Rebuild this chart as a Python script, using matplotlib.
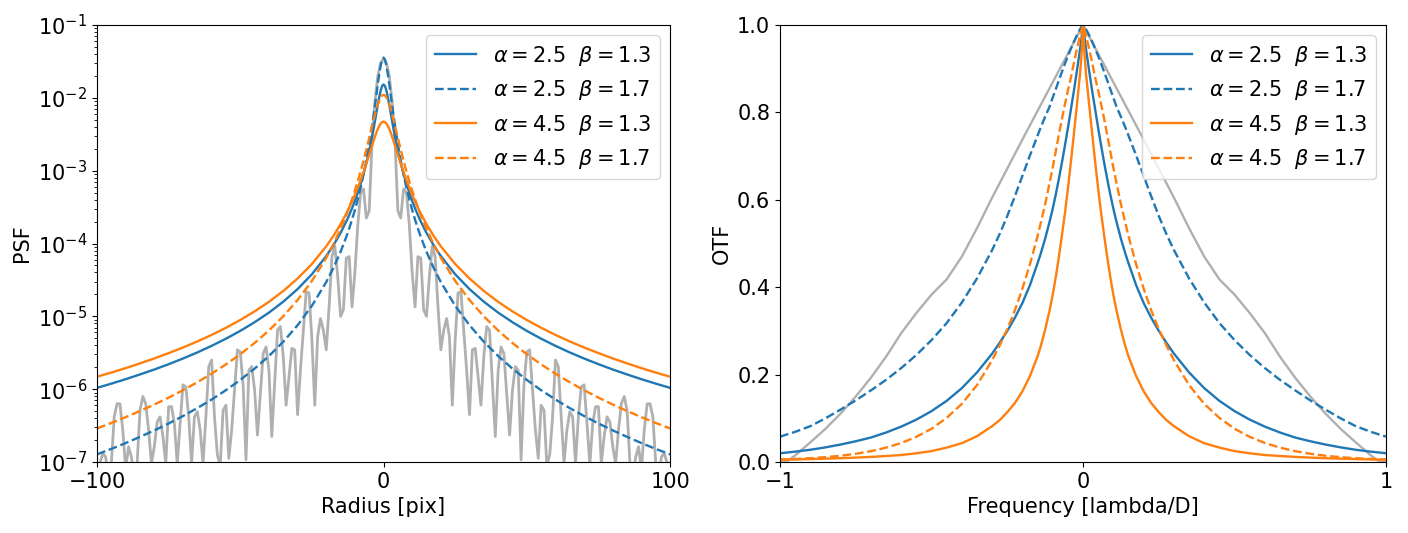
import numpy as np
import matplotlib
matplotlib.use("Agg")
import matplotlib.pyplot as plt

# ---- PSF (left panel), log10(PSF) read at radius r >= 0; the profiles are symmetric ----
psf_radius = [0, 0.5, 1, 1.5, 2, 2.5, 3, 3.5, 4, 5, 6, 7, 8, 9, 10, 11, 12, 13, 15, 17.5, 20, 25,
              30, 35, 40, 45, 50, 55, 60, 65, 70, 75, 80, 85, 90, 95, 100]
psf_a25_b13 = [-1.816, -1.838, -1.900, -1.990, -2.095, -2.207, -2.320, -2.429, -2.533,
               -2.725, -2.895, -3.046, -3.182, -3.304, -3.415, -3.517, -3.611, -3.698,
               -3.855, -4.025, -4.173, -4.422, -4.626, -4.799, -4.949, -5.081, -5.200,
               -5.307, -5.405, -5.496, -5.579, -5.657, -5.730, -5.798, -5.863, -5.924, -5.982]
psf_a25_b17 = [-1.448, -1.477, -1.558, -1.675, -1.813, -1.960, -2.107, -2.249, -2.385,
               -2.636, -2.859, -3.057, -3.234, -3.394, -3.540, -3.673, -3.795, -3.909,
               -4.114, -4.336, -4.530, -4.855, -5.122, -5.349, -5.545, -5.718, -5.873,
               -6.014, -6.142, -6.260, -6.369, -6.471, -6.566, -6.655, -6.740, -6.820, -6.895]
psf_a45_b13 = [-2.327, -2.333, -2.354, -2.386, -2.428, -2.478, -2.534, -2.594, -2.655,
               -2.780, -2.903, -3.021, -3.131, -3.235, -3.332, -3.423, -3.508, -3.588,
               -3.735, -3.896, -4.039, -4.281, -4.481, -4.652, -4.801, -4.932, -5.050,
               -5.157, -5.255, -5.345, -5.428, -5.505, -5.578, -5.646, -5.711, -5.772, -5.829]
psf_a45_b17 = [-1.959, -1.968, -1.994, -2.036, -2.092, -2.157, -2.230, -2.308, -2.388,
               -2.552, -2.713, -2.866, -3.011, -3.147, -3.274, -3.393, -3.504, -3.609,
               -3.800, -4.011, -4.198, -4.514, -4.776, -5.000, -5.194, -5.366, -5.520,
               -5.660, -5.787, -5.905, -6.014, -6.116, -6.211, -6.300, -6.384, -6.464, -6.539]

# sampled diffraction PSF (grey), log10 values at r = 0, 1, ..., 100
psf_ref = [-1.46, -1.52, -1.70, -2.05, -2.60, -3.55, -3.65, -3.25, -3.30, -3.75,
           -4.40, -4.87, -4.18, -4.20, -4.91, -5.00, -4.45, -4.04, -4.18, -4.87,
           -5.46, -5.19, -5.03, -5.28, -6.22, -5.32, -4.68, -4.66, -5.19, -5.74,
           -6.35, -5.46, -5.44, -5.83, -6.22, -5.55, -5.14, -5.19, -5.92, -6.65,
           -5.74, -5.42, -5.51, -6.06, -6.63, -6.01, -5.69, -5.74, -6.97, -5.95,
           -5.49, -5.46, -6.01, -6.56, -6.95, -6.22, -6.29, -7.05, -6.90, -6.38,
           -5.60, -5.69, -6.38, -7.02, -6.56, -6.31, -6.38, -7.02, -6.38, -5.97,
           -5.94, -6.47, -7.03, -6.47, -6.24, -6.24, -7.02, -6.65, -6.38, -6.45,
           -6.79, -7.02, -6.56, -6.20, -6.10, -6.29, -7.02, -7.20, -6.93, -6.79,
           -7.10, -6.56, -6.20, -6.20, -6.38, -7.02, -7.20, -6.93, -6.88, -7.02,
           -7.10]

# ---- OTF (right panel), values read at frequency f >= 0 ----
otf_freq = [0, 0.005, 0.01, 0.02, 0.03, 0.04, 0.05, 0.06, 0.07, 0.08, 0.09, 0.1, 0.11, 0.125,
            0.14, 0.15, 0.175, 0.2, 0.225, 0.25, 0.275, 0.3, 0.35, 0.4, 0.45, 0.5, 0.55, 0.6,
            0.65, 0.7, 0.75, 0.8, 0.85, 0.9, 0.95, 1.0]
otf_a25_b13 = [1.0, 0.97, 0.944, 0.896, 0.85, 0.807, 0.764, 0.723, 0.684, 0.647, 0.612, 0.58,
               0.551, 0.511, 0.476, 0.455, 0.405, 0.364, 0.33, 0.30, 0.273, 0.248, 0.205, 0.169,
               0.14, 0.1165, 0.097, 0.081, 0.0675, 0.056, 0.0475, 0.040, 0.0335, 0.028, 0.0237, 0.020]
otf_a25_b17 = [1.0, 0.996, 0.99, 0.977, 0.962, 0.946, 0.929, 0.911, 0.892, 0.873, 0.853, 0.834,
               0.814, 0.79, 0.765, 0.747, 0.702, 0.655, 0.608, 0.563, 0.522, 0.485, 0.42, 0.365,
               0.318, 0.279, 0.245, 0.215, 0.188, 0.164, 0.141, 0.12, 0.10, 0.082, 0.069, 0.058]
otf_a45_b13 = [1.0, 0.932, 0.887, 0.819, 0.752, 0.687, 0.625, 0.568, 0.517, 0.468, 0.423, 0.383,
               0.348, 0.303, 0.264, 0.242, 0.197, 0.162, 0.135, 0.114, 0.096, 0.082, 0.059, 0.043,
               0.033, 0.025, 0.020, 0.016, 0.0137, 0.0117, 0.0101, 0.0087, 0.0077, 0.0067, 0.0059, 0.0052]
otf_a45_b17 = [1.0, 0.988, 0.975, 0.946, 0.914, 0.88, 0.85, 0.818, 0.784, 0.748, 0.711, 0.674,
               0.64, 0.59, 0.546, 0.517, 0.453, 0.397, 0.347, 0.304, 0.267, 0.233, 0.176, 0.133,
               0.101, 0.0761, 0.0576, 0.0435, 0.0329, 0.0248, 0.0188, 0.0143, 0.0111, 0.0087, 0.0069, 0.0057]

otf_ref_freq = [0, 0.1, 0.2, 0.3, 0.35, 0.4, 0.45, 0.5, 0.55, 0.6, 0.65, 0.7, 0.75, 0.8, 0.85, 0.9,
                0.95, 0.98, 1.0]
otf_ref = [1.0, 0.869, 0.738, 0.605, 0.535, 0.47, 0.418, 0.383, 0.341, 0.295, 0.241, 0.193, 0.15,
           0.111, 0.076, 0.045, 0.015, 0.0, 0.0]

labels = [r'$\alpha=2.5$  $\beta=1.3$', r'$\alpha=2.5$  $\beta=1.7$',
          r'$\alpha=4.5$  $\beta=1.3$', r'$\alpha=4.5$  $\beta=1.7$']


def mirror(x, y):
    x = np.asarray(x, dtype=float)
    y = np.asarray(y, dtype=float)
    return np.concatenate([-x[:0:-1], x]), np.concatenate([y[:0:-1], y])


plt.rcParams['font.size'] = 15
fig = plt.figure(figsize=(14.08, 5.33), dpi=100)
ax1 = fig.add_axes([0.0689, 0.1332, 0.4070, 0.8199])
ax2 = fig.add_axes([0.5540, 0.1332, 0.4304, 0.8199])

styles = [('#1f77b4', '-'), ('#1f77b4', '--'), ('#ff7f0e', '-'), ('#ff7f0e', '--')]

# left: PSF
r_ref, v_ref = mirror(np.arange(len(psf_ref)), psf_ref)
ax1.plot(r_ref, 10.0 ** v_ref, color='#b0b0b0', lw=2)
for vals, (c, ls), lab in zip([psf_a25_b13, psf_a25_b17, psf_a45_b13, psf_a45_b17], styles, labels):
    r, v = mirror(psf_radius, vals)
    ax1.plot(r, 10.0 ** v, color=c, ls=ls, lw=1.7, label=lab)
ax1.set_yscale('log')
ax1.set_xlim(-100, 100)
ax1.set_ylim(1e-7, 1e-1)
ax1.set_xticks([-100, 0, 100])
ax1.set_xlabel('Radius [pix]')
ax1.set_ylabel('PSF')
ax1.legend(loc='upper right')

# right: OTF
f_ref, o_ref = mirror(otf_ref_freq, otf_ref)
ax2.plot(f_ref, o_ref, color='#b0b0b0', lw=1.7)
for vals, (c, ls), lab in zip([otf_a25_b13, otf_a25_b17, otf_a45_b13, otf_a45_b17], styles, labels):
    f, o = mirror(otf_freq, vals)
    ax2.plot(f, o, color=c, ls=ls, lw=1.7, label=lab)
ax2.set_xlim(-1, 1)
ax2.set_ylim(0, 1)
ax2.set_xticks([-1, 0, 1])
ax2.set_xlabel('Frequency [lambda/D]')
ax2.set_ylabel('OTF')
ax2.legend(loc='upper right')

fig.savefig('out.png', dpi=100)
